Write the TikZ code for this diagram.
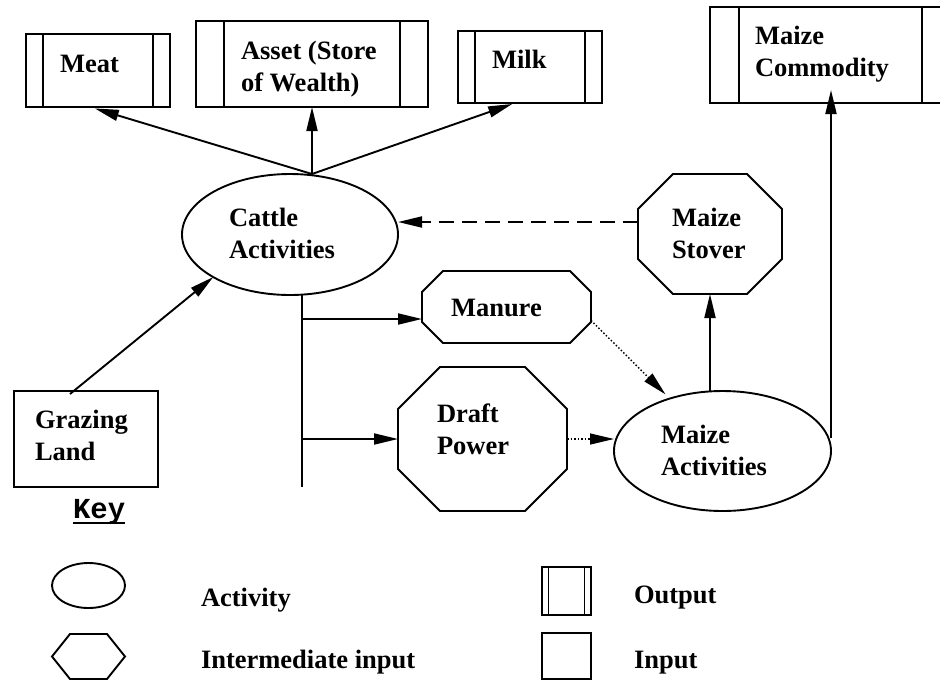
\documentclass[tikz,border=0pt]{standalone}
\usepackage{fontspec}
\setmainfont{Liberation Serif}
\newfontfamily\keyfont{Liberation Mono}
\usetikzlibrary{arrows.meta,calc,shapes.geometric}
\newcommand\drawocto[2]{\draw[line width=1.9pt] ([xshift=#2]#1.north west) -- ([xshift=-#2]#1.north east) -- ([yshift=-#2]#1.north east) -- ([yshift=#2]#1.south east) -- ([xshift=-#2]#1.south east) -- ([xshift=#2]#1.south west) -- ([yshift=#2]#1.south west) -- ([yshift=-#2]#1.north west) -- cycle;}
\begin{document}
\begin{tikzpicture}[x=1pt,y=-1pt,
  every node/.style={inner sep=0pt, outer sep=0pt},
  box/.style={draw, rectangle, line width=1.9pt},
  outbox/.style={box, path picture={\draw[line width=1.9pt]
     ([xshift=#1]path picture bounding box.north west) -- ([xshift=#1]path picture bounding box.south west)
     ([xshift=-#1]path picture bounding box.north east) -- ([xshift=-#1]path picture bounding box.south east);}},
  octo/.style={rectangle},
  activity/.style={draw, ellipse, line width=1.9pt},
  lbl/.style={anchor=base west, align=left, font=\fontsize{26.5}{32}\selectfont\bfseries},
  arr/.style={line width=1.9pt, -{Triangle[length=24pt,width=11pt]}},
  dasharr/.style={arr, dash pattern=on 15pt off 8pt},
  dotarr/.style={line width=1.4pt, dash pattern=on 1.5pt off 2pt, -{Triangle[length=24pt,width=11pt]}}
]
\useasboundingbox (0,0) rectangle (940,681);
\clip (0,0) rectangle (940,681);

% output boxes
\node[outbox=17pt, minimum width=144pt, minimum height=73pt] (meat) at (98,70.5) {};
\node[outbox=28pt, minimum width=232pt, minimum height=86pt] (asset) at (312,64) {};
\node[outbox=17pt, minimum width=144pt, minimum height=72pt] (milk) at (530,67) {};
\node[outbox=29pt, minimum width=241pt, minimum height=96pt] (mcom) at (830.5,55) {};

% input box
\node[box, minimum width=144pt, minimum height=96pt] (grazing) at (86,439) {};

% activities
\node[activity, minimum width=216pt, minimum height=121pt] (cattle) at (290,234.5) {};
\node[activity, minimum width=217pt, minimum height=120pt] (maizeact) at (722.5,451) {};

% intermediate inputs
\node[octo, minimum width=144pt, minimum height=120pt] (stover) at (710,234) {};
\node[octo, minimum width=169pt, minimum height=72pt] (manure) at (506.5,307) {};
\node[octo, minimum width=169pt, minimum height=144pt] (draft) at (482.5,439) {};
\drawocto{stover}{35pt}
\drawocto{manure}{21pt}
\drawocto{draft}{42pt}

% texts (multi-line nodes: base = last line's baseline)
\node[lbl] (tmeat) at (60,72) {Meat};
\node[lbl] (tasset) at (241,91) {Asset (Store\\of Wealth)};
\node[lbl] (tmilk) at (492,68) {Milk};
\node[lbl] (tmcom) at (755,76) {Maize\\Commodity};
\node[lbl] (tcattle) at (229,258) {Cattle\\Activities};
\node[lbl] (tstover) at (672,258) {Maize\\Stover};
\node[lbl] (tmanure) at (451,316) {Manure};
\node[lbl] (tdraft) at (437,454) {Draft\\Power};
\node[lbl] (tmaizeact) at (661,475) {Maize\\Activities};
\node[lbl] (tgrazing) at (35,460) {Grazing\\Land};

% connectors
\coordinate (ctop) at (312,174);
\draw[arr, shorten >=5pt] (ctop) -- ([xshift=-8pt]meat.south);
\draw[arr] (ctop) -- (asset.south);
\draw[arr, shorten >=3pt] (ctop) -- ([xshift=-15pt]milk.south);
\draw[arr] ([xshift=-16pt,yshift=-3pt]grazing.north) -- (cattle.209);
\draw[dasharr] ([yshift=12pt]stover.west) -- ([yshift=12pt]stover.west -| cattle.east);
\coordinate (vbot) at (302,487);
\coordinate (j1) at (302,319);
\coordinate (j2) at (302,439);
\draw[line width=1.9pt] ([xshift=12pt]cattle.south) -- (vbot);
\draw[arr] (j1) -- (j1 -| manure.west);
\draw[arr] (j2) -- (draft.west);
\draw[dotarr, shorten >=6pt] (manure.-9.4) -- (maizeact);
\draw[dotarr] (draft.east) -- (draft.east -| maizeact.west);
\draw[arr] (stover.south |- maizeact.north) -- (stover.south);
\draw[arr] ([yshift=13pt]maizeact.east) -- ([yshift=13pt]maizeact.east |- mcom.south);

% key
\node[anchor=base west, font=\fontsize{29}{32}\selectfont\keyfont\bfseries] (key) at (73,518) {Key};
\draw[line width=2.5pt] ([yshift=-5pt]key.base west) -- ([yshift=-5pt]key.base east);
\node[activity, minimum width=73pt, minimum height=45pt] (keyact) at (88.5,585.5) {};
\node[rectangle, minimum width=73pt, minimum height=45pt] (keyint) at (88.5,656.5) {};
\draw[line width=1.9pt] (keyint.west) -- ([xshift=18pt]keyint.north west) -- ([xshift=-18pt]keyint.north east) -- (keyint.east) -- ([xshift=-18pt]keyint.south east) -- ([xshift=18pt]keyint.south west) -- cycle;
\node[outbox=6.5pt, minimum width=49pt, minimum height=48pt] (keyout) at (566.5,591) {};
\node[box, minimum width=49pt, minimum height=46pt] (keyin) at (566.5,656) {};
\node[lbl] (tkact) at (201,606) {Activity};
\node[lbl] (tkint) at (201,668) {Intermediate input};
\node[lbl] (tkout) at (634,603) {Output};
\node[lbl] (tkin) at (634,668) {Input};
\end{tikzpicture}
\end{document}
